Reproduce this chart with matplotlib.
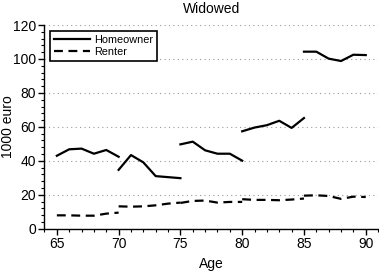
import matplotlib
matplotlib.use("Agg")
import matplotlib.pyplot as plt
from matplotlib.ticker import MultipleLocator

plt.rcParams['font.family'] = ['Liberation Sans', 'DejaVu Sans']

# Age segments (each 5-year cohort plotted separately)
segments = [
    [65, 66, 67, 68, 69, 70],
    [70, 71, 72, 73, 74, 75],
    [75, 76, 77, 78, 79, 80],
    [80, 81, 82, 83, 84, 85],
    [85, 86, 87, 88, 89, 90],
]
homeowner = [
    [43.0, 46.8, 47.2, 44.2, 46.4, 42.4],
    [34.7, 43.4, 39.1, 31.0, 30.4, 29.8],
    [49.7, 51.3, 46.2, 44.2, 44.2, 40.1],
    [57.4, 59.6, 61.0, 63.6, 59.4, 65.2],
    [104.3, 104.3, 100.2, 98.8, 102.5, 102.3],
]
renter = [
    [7.9, 7.9, 7.7, 7.7, 8.9, 9.5],
    [13.2, 13.0, 13.2, 13.8, 14.8, 15.4],
    [15.2, 16.4, 16.6, 15.4, 15.8, 15.8],
    [17.4, 17.0, 17.0, 16.8, 17.2, 17.8],
    [19.5, 19.7, 19.3, 17.6, 18.9, 18.7],
]
labels = ["Homeowner", "Renter"]
title = "Widowed"
xlabel = "Age"
ylabel = "1000 euro"

fig = plt.figure(figsize=(3.79, 2.72), dpi=100)
ax = fig.add_axes([0.1174, 0.159, 0.8802, 0.749])

for i, (ages, h, r) in enumerate(zip(segments, homeowner, renter)):
    ax.plot(ages, h, color='black', lw=1.6, ls='-', label=labels[0] if i == 0 else None)
    ax.plot(ages, r, color='black', lw=1.6, ls=(0, (4, 2.5)), label=labels[1] if i == 0 else None)

ax.set_xlim(64, 91)
ax.set_ylim(0, 120)
ax.xaxis.set_major_locator(MultipleLocator(5))
ax.xaxis.set_minor_locator(MultipleLocator(1))
ax.yaxis.set_major_locator(MultipleLocator(20))
ax.yaxis.set_minor_locator(MultipleLocator(4))
ax.tick_params(which='major', direction='out', length=4, width=1, labelsize=10, pad=2)
ax.tick_params(which='minor', direction='out', length=2, width=0.8)

for s in ['top', 'right']:
    ax.spines[s].set_visible(False)
for s in ['left', 'bottom']:
    ax.spines[s].set_linewidth(1)

ax.yaxis.grid(True, which='major', ls=(0, (1, 3)), color='#999999', lw=0.8)
ax.set_axisbelow(True)

ax.set_title(title, fontsize=10, pad=9)
ax.set_xlabel(xlabel, fontsize=10, labelpad=4)
ax.set_ylabel(ylabel, fontsize=10)
ax.yaxis.set_label_coords(-0.088, 0.5)

leg = ax.legend(loc='upper left', fontsize=7.8, frameon=True, fancybox=False,
                edgecolor='black', handlelength=3.3, borderaxespad=0.55,
                handletextpad=0.4, labelspacing=0.2, borderpad=0.35)
leg.get_frame().set_linewidth(1.2)
leg.get_frame().set_alpha(1)

fig.savefig("out.png", dpi=100)
